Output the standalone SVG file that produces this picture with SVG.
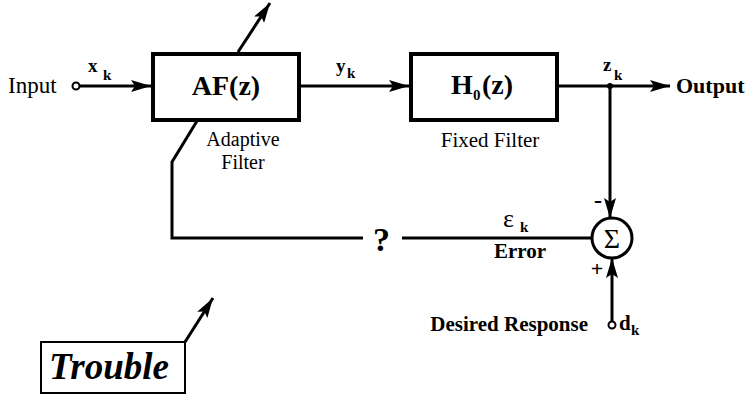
<svg xmlns="http://www.w3.org/2000/svg" width="754" height="405" viewBox="0 0 754 405">
<style>
.ln{fill:none;stroke:#000;stroke-width:3}
.box{fill:#fff;stroke:#000;stroke-width:4}
.t{font-family:"Liberation Serif","Times New Roman",serif;fill:#000}
.b{font-weight:bold}
</style>
<defs>
<marker id="ah" markerUnits="userSpaceOnUse" markerWidth="22" markerHeight="12" refX="20" refY="6" orient="auto">
<path d="M0,0 L20,6 L0,12 L4,6 Z" fill="#000"/>
</marker>
</defs>
<rect width="754" height="405" fill="#fff"/>
<g id="connectors">
<circle cx="76" cy="86" r="3.5" fill="#fff" stroke="#000" stroke-width="2"/>
<line class="ln" x1="80" y1="86" x2="151" y2="86" marker-end="url(#ah)"/>
<line class="ln" x1="301" y1="86" x2="409" y2="86" marker-end="url(#ah)"/>
<line class="ln" x1="558" y1="86" x2="670" y2="86" marker-end="url(#ah)"/>
<circle cx="610" cy="86" r="3" fill="#000"/>
<line class="ln" x1="610" y1="86" x2="610" y2="218" marker-end="url(#ah)"/>
<polyline class="ln" points="197,121 172,162 172,238 363,238"/>
<line class="ln" x1="402" y1="238" x2="592" y2="238"/>
<line class="ln" x1="612" y1="321" x2="612" y2="258" marker-end="url(#ah)"/>
<circle cx="612" cy="325" r="3.5" fill="#fff" stroke="#000" stroke-width="2"/>
<line class="ln" x1="238" y1="52" x2="270" y2="3" marker-end="url(#ah)"/>
<line class="ln" x1="185" y1="342" x2="213" y2="298" marker-end="url(#ah)"/>
</g>
<g id="input">
<text class="t" x="8" y="93" font-size="23">Input</text>
<text class="t b" x="88" y="72" font-size="19">x</text>
<text class="t b" x="103" y="80" font-size="15">k</text>
</g>
<g id="af">
<rect class="box" x="153" y="54" width="146" height="66"/>
<text class="t b" x="226" y="95" font-size="28" text-anchor="middle">AF(z)</text>
<text class="t" x="243" y="146" font-size="20" text-anchor="middle">Adaptive</text>
<text class="t" x="243" y="169" font-size="20" text-anchor="middle">Filter</text>
</g>
<g id="yk">
<text class="t b" x="336" y="72" font-size="19">y</text>
<text class="t b" x="347" y="78" font-size="15">k</text>
</g>
<g id="h0">
<rect class="box" x="411" y="54" width="146" height="66"/>
<text class="t b" x="451" y="94" font-size="28">H</text>
<text class="t b" x="473" y="100" font-size="15">0</text>
<text class="t b" x="482" y="94" font-size="28">(z)</text>
<text class="t" x="490" y="147" font-size="21" text-anchor="middle">Fixed Filter</text>
</g>
<g id="output">
<text class="t b" x="603" y="71" font-size="19">z</text>
<text class="t b" x="614" y="80" font-size="15">k</text>
<text class="t b" x="676" y="93" font-size="22">Output</text>
</g>
<g id="sum">
<circle cx="612" cy="238" r="20" fill="#fff" stroke="#000" stroke-width="3"/>
<text class="t" x="612" y="248" font-size="28" text-anchor="middle">Σ</text>
<text class="t b" x="598" y="208" font-size="24" text-anchor="middle">-</text>
<text class="t b" x="597" y="276" font-size="22" text-anchor="middle">+</text>
</g>
<g id="error">
<text class="t b" x="373" y="251" font-size="34">?</text>
<text class="t" x="503" y="227" font-size="26">ε</text>
<text class="t b" x="520" y="232" font-size="15">k</text>
<text class="t b" x="520" y="258" font-size="21" text-anchor="middle">Error</text>
</g>
<g id="desired">
<text class="t b" x="588" y="331" font-size="21" text-anchor="end">Desired Response</text>
<text class="t b" x="619" y="330" font-size="21">d</text>
<text class="t b" x="631" y="335" font-size="15">k</text>
</g>
<g id="trouble">
<rect x="41" y="342" width="144" height="51" fill="#fff" stroke="#000" stroke-width="2"/>
<text class="t b" x="49" y="379" font-size="37" font-style="italic">Trouble</text>
</g>
</svg>
